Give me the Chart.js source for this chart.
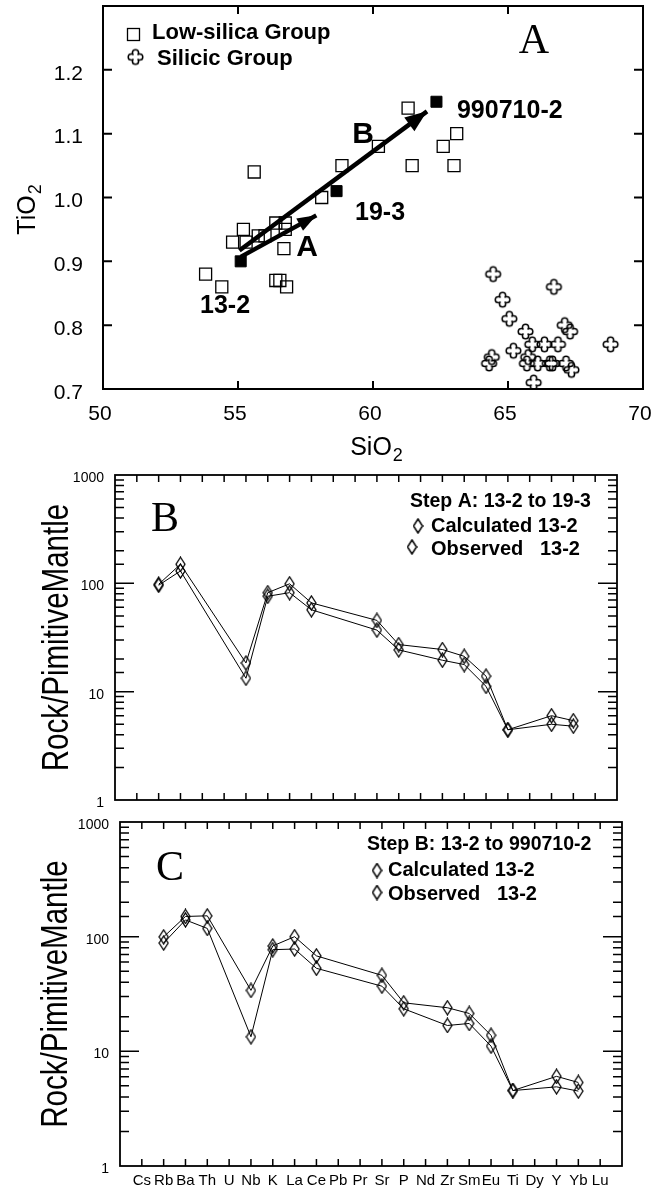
<!DOCTYPE html>
<html><head><meta charset="utf-8">
<script src="https://cdn.jsdelivr.net/npm/chart.js@4.4.1/dist/chart.umd.min.js"></script>
<style>
html,body{margin:0;padding:0;background:#fff;}
#wrap{position:relative;width:663px;height:1189px;overflow:hidden;background:#fff;}
canvas{position:absolute;left:0;}
</style></head><body>
<div id="wrap">
<canvas id="cA" width="663" height="466" style="top:0px"></canvas>
<canvas id="cB" width="663" height="344" style="top:466px"></canvas>
<canvas id="cC" width="663" height="379" style="top:810px"></canvas>
</div>
<script>
// ---------------- DATA ----------------
// Panel A: TiO2 vs SiO2
const lowSilicaSiO2 = [53.8, 54.4, 54.8, 55.2, 55.3, 55.6, 55.75, 56.0, 56.4, 56.75, 56.75, 56.7, 56.4, 56.55, 56.8, 58.1, 58.85, 60.2, 61.3, 61.45, 62.6, 63.1, 63.0];
const lowSilicaTiO2 = [0.88, 0.86, 0.93, 0.95, 0.93, 1.04, 0.94, 0.94, 0.96, 0.96, 0.95, 0.92, 0.87, 0.87, 0.86, 1.00, 1.05, 1.08, 1.14, 1.05, 1.08, 1.10, 1.05];
const silicicSiO2 = [64.45, 64.8, 65.05, 65.65, 65.2, 65.9, 66.35, 66.85, 66.7, 67.1, 67.3, 68.8, 64.4, 64.3, 65.75, 65.7, 66.1, 66.55, 66.65, 67.15, 67.35, 65.95];
const silicicTiO2 = [0.88, 0.84, 0.81, 0.79, 0.76, 0.77, 0.77, 0.77, 0.86, 0.80, 0.79, 0.77, 0.75, 0.74, 0.75, 0.74, 0.74, 0.74, 0.74, 0.74, 0.73, 0.71];
const sampleNames = ['13-2', '19-3', '990710-2'];
const sampleSiO2 = [55.1, 58.65, 62.35];
const sampleTiO2 = [0.90, 1.01, 1.15];
const arrowASiO2 = [55.1, 57.9];
const arrowATiO2 = [0.907, 0.972];
const arrowBSiO2 = [55.05, 62.0];
const arrowBTiO2 = [0.917, 1.135];
const sio2Ticks = [50, 55, 60, 65, 70];
const tio2Ticks = [0.7, 0.8, 0.9, 1.0, 1.1, 1.2];

// Panels B and C: Rock / Primitive Mantle
const elements = ['Cs','Rb','Ba','Th','U','Nb','K','La','Ce','Pb','Pr','Sr','P','Nd','Zr','Sm','Eu','Ti','Dy','Y','Yb','Lu'];
const stepA_calculated = [null, 98, 150, null, null, 18.4, 82, 99, 66, null, null, 45.5, 27.2, null, 24.5, 21.2, 13.9, 4.45, null, 6.0, 5.4, null];
const stepA_observed   = [null, 96, 130, null, null, 13.3, 76, 82, 57, null, null, 37, 24.3, null, 19.5, 17.8, 11.2, 4.45, null, 5.0, 4.8, null];
const stepB_calculated = [null, 99.7, 150, 152, null, 34, 83, 100, 68, null, null, 46, 26.5, null, 24, 21.4, 13.8, 4.55, null, 6.05, 5.35, null];
const stepB_observed   = [null, 88, 140, 118, null, 13.4, 77, 78, 53, null, null, 37, 23.5, null, 16.8, 17.5, 11.1, 4.55, null, 4.9, 4.5, null];
const logTickLabels = [1, 10, 100, 1000];

// ---------------- HELPERS ----------------
const SANS = "'Liberation Sans', Arial, Helvetica, sans-serif";
const SERIF = "'Liberation Serif', 'Times New Roman', serif";

Chart.defaults.font.family = SANS;
Chart.defaults.color = '#000';

const zip = (xs, ys) => xs.map((x, i) => ({x, y: ys[i]}));
const pad = arr => [null, ...arr, null];
function noPad(s){ s.paddingTop = 0; s.paddingBottom = 0; s.paddingLeft = 0; s.paddingRight = 0; }
const GRID = {display: false, drawTicks: false, tickLength: 0};

function makeCross(){
  const c = document.createElement('canvas'); c.width = 19; c.height = 19;
  const g = c.getContext('2d'); g.translate(9.5, 9.5);
  const e = 7.3, a = 3.1;
  g.beginPath();
  g.moveTo(-a, -e + a);
  g.arc(0, -e + a, a, Math.PI, 2 * Math.PI);
  g.lineTo(a * 0.8, -a * 0.8);
  g.lineTo(e - a, -a);
  g.arc(e - a, 0, a, -Math.PI / 2, Math.PI / 2);
  g.lineTo(a * 0.8, a * 0.8);
  g.lineTo(a, e - a);
  g.arc(0, e - a, a, 0, Math.PI);
  g.lineTo(-a * 0.8, a * 0.8);
  g.lineTo(-(e - a), a);
  g.arc(-(e - a), 0, a, Math.PI / 2, 1.5 * Math.PI);
  g.lineTo(-a * 0.8, -a * 0.8);
  g.closePath();
  g.lineWidth = 1.5; g.strokeStyle = '#000'; g.lineJoin = 'round';
  g.stroke();
  return c;
}
function makeDiamond(lw){
  const c = document.createElement('canvas'); c.width = 11; c.height = 16;
  const g = c.getContext('2d');
  g.beginPath(); g.moveTo(5.5, 1); g.lineTo(10, 8); g.lineTo(5.5, 15); g.lineTo(1, 8); g.closePath();
  g.lineWidth = lw; g.strokeStyle = '#000'; g.stroke();
  return c;
}
const crossImg = makeCross();
const diamondImg = makeDiamond(1.3);
const legendDiamondImg = makeDiamond(1.5);

function frameTicks(o){
  return {
    id: 'frameTicks',
    afterDraw(chart){
      const {ctx, chartArea: ca} = chart;
      const xs = chart.scales.x, ys = chart.scales.y;
      ctx.save();
      ctx.strokeStyle = '#000'; ctx.lineWidth = o.tickWidth;
      ctx.beginPath();
      xs.ticks.forEach((t, i) => {
        const px = xs.getPixelForTick(i);
        if (px <= ca.left + 1 || px >= ca.right - 1) return;
        ctx.moveTo(px, ca.bottom); ctx.lineTo(px, ca.bottom - o.xLen);
        ctx.moveTo(px, ca.top); ctx.lineTo(px, ca.top + o.xLen);
      });
      ys.ticks.forEach((t, i) => {
        const py = ys.getPixelForTick(i);
        if (py <= ca.top + 1 || py >= ca.bottom - 1) return;
        let len = o.yLen;
        if (o.log) {
          const l = Math.log10(t.value);
          len = Math.abs(l - Math.round(l)) < 1e-9 ? o.yLen : o.yMinor;
        }
        ctx.moveTo(ca.left, py); ctx.lineTo(ca.left + len, py);
        ctx.moveTo(ca.right, py); ctx.lineTo(ca.right - len, py);
      });
      ctx.stroke();
      ctx.lineWidth = o.frameWidth;
      ctx.strokeRect(ca.left, ca.top, ca.right - ca.left, ca.bottom - ca.top);
      ctx.restore();
    }
  };
}

function text(ctx, s, x, y, font, align, baseline){
  ctx.font = font; ctx.textAlign = align || 'center'; ctx.textBaseline = baseline || 'middle';
  ctx.fillStyle = '#000'; ctx.fillText(s, x, y);
}

// ---------------- PANEL A ----------------
const arrowHeads = {
  id: 'arrowHeads',
  afterDatasetsDraw(chart){
    const ctx = chart.ctx;
    [[0, 19, 7], [1, 22, 8.5]].forEach(([di, L, W]) => {
      const m = chart.getDatasetMeta(di);
      const p0 = m.data[0], p1 = m.data[1];
      const ang = Math.atan2(p1.y - p0.y, p1.x - p0.x);
      const c = Math.cos(ang), s = Math.sin(ang);
      const bx = p1.x - L * c, by = p1.y - L * s;
      ctx.save(); ctx.fillStyle = '#000';
      ctx.beginPath();
      ctx.moveTo(p1.x, p1.y);
      ctx.lineTo(bx - W * s, by + W * c);
      ctx.lineTo(bx + W * s, by - W * c);
      ctx.closePath(); ctx.fill(); ctx.restore();
    });
  }
};

const textsA = {
  id: 'textsA',
  afterDraw(chart){
    const {ctx, chartArea: ca} = chart;
    const xs = chart.scales.x, ys = chart.scales.y;
    const P = (x, y) => [xs.getPixelForValue(x), ys.getPixelForValue(y)];
    ctx.save();
    // legend
    ctx.strokeStyle = '#000'; ctx.lineWidth = 1.3;
    ctx.strokeRect(ca.left + 24.5, ca.top + 22.5, 12, 12);
    text(ctx, 'Low-silica Group', ca.left + 49, ca.top + 27, 'bold 22px ' + SANS, 'left');
    ctx.drawImage(crossImg, ca.left + 32.5 - crossImg.width / 2, ca.top + 51 - crossImg.height / 2);
    text(ctx, 'Silicic Group', ca.left + 54, ca.top + 53, 'bold 22px ' + SANS, 'left');
    // panel letter
    let [x, y] = P(65.96, 1.248);
    text(ctx, 'A', x, y + 14, '42px ' + SERIF, 'center', 'alphabetic');
    // sample labels
    [x, y] = P(54.52, 0.830); text(ctx, sampleNames[0], x, y, 'bold 25px ' + SANS);
    [x, y] = P(60.26, 0.976); text(ctx, sampleNames[1], x, y, 'bold 25px ' + SANS);
    [x, y] = P(63.11, 1.136); text(ctx, sampleNames[2], x, y, 'bold 25px ' + SANS, 'left');
    // arrow labels
    [x, y] = P(57.56, 0.922); text(ctx, 'A', x, y, 'bold 30px ' + SANS);
    [x, y] = P(59.63, 1.098); text(ctx, 'B', x, y, 'bold 30px ' + SANS);
    // x title SiO2
    const cx = (ca.left + ca.right) / 2 - 2;
    ctx.font = '25px ' + SANS; const wS = ctx.measureText('SiO').width;
    text(ctx, 'SiO', cx, 455, '25px ' + SANS, 'center', 'alphabetic');
    text(ctx, '2', cx + wS / 2 + 1, 461, '18px ' + SANS, 'left', 'alphabetic');
    // y title TiO2
    ctx.translate(35, 215); ctx.rotate(-Math.PI / 2);
    ctx.font = '25px ' + SANS; const wT = ctx.measureText('TiO').width;
    text(ctx, 'TiO', 0, 0, '25px ' + SANS, 'center', 'alphabetic');
    text(ctx, '2', wT / 2 + 1, 6, '18px ' + SANS, 'left', 'alphabetic');
    ctx.restore();
  }
};

new Chart(document.getElementById('cA'), {
  type: 'scatter',
  data: { datasets: [
    {label: 'Step A', data: zip(arrowASiO2, arrowATiO2), showLine: true, borderColor: '#000', borderWidth: 4.5, pointRadius: 0, borderCapStyle: 'butt', order: 0},
    {label: 'Step B', data: zip(arrowBSiO2, arrowBTiO2), showLine: true, borderColor: '#000', borderWidth: 4.5, pointRadius: 0, borderCapStyle: 'butt', order: 0},
    {label: 'Samples', data: zip(sampleSiO2, sampleTiO2), pointStyle: 'rect', pointRadius: 7.8, backgroundColor: '#000', borderColor: '#000', borderWidth: 1, order: 1},
    {label: 'Low-silica Group', data: zip(lowSilicaSiO2, lowSilicaTiO2), pointStyle: 'rect', pointRadius: 8.5, backgroundColor: 'rgba(0,0,0,0)', borderColor: '#000', borderWidth: 1.3, order: 2},
    {label: 'Silicic Group', data: zip(silicicSiO2, silicicTiO2), pointStyle: crossImg, pointRadius: 8, order: 3}
  ]},
  options: {
    responsive: false, animation: false, devicePixelRatio: 1, events: [],
    layout: {autoPadding: false, padding: {left: 0, right: 20, top: 6, bottom: 0}},
    plugins: {legend: {display: false}, tooltip: {enabled: false}},
    scales: {
      x: {type: 'linear', min: 50, max: 70,
        afterBuildTicks: s => { s.ticks = sio2Ticks.map(v => ({value: v})); },
        afterFit: s => { s.height = 466 - 389; noPad(s); },
        grid: GRID, border: {display: false},
        ticks: {font: {family: SANS, size: 21}, color: '#000', padding: 13, labelOffset: -3, maxRotation: 0, autoSkip: false, callback: v => String(v)}},
      y: {type: 'linear', min: 0.7, max: 1.3,
        afterBuildTicks: s => { s.ticks = tio2Ticks.map(v => ({value: v})); },
        afterFit: s => { s.width = 103; noPad(s); },
        grid: GRID, border: {display: false},
        ticks: {font: {family: SANS, size: 21}, color: '#000', padding: 20, labelOffset: 4, autoSkip: false, callback: v => Number(v).toFixed(1)}}
    }
  },
  plugins: [frameTicks({tickWidth: 2, xLen: 8, yLen: 9, frameWidth: 2}), arrowHeads, textsA]
});

// ---------------- PANELS B & C ----------------
function spider(id, canvasH, area, calc, obs, legend, letter, showLabels){
  const textsS = {
    id: 'textsS',
    afterDraw(chart){
      const {ctx, chartArea: ca} = chart;
      ctx.save();
      text(ctx, letter, ca.left + 50, ca.top + legend.letterBase, '42px ' + SERIF, 'center', 'alphabetic');
      text(ctx, legend.title, legend.x, ca.top + legend.y1, 'bold 19.5px ' + SANS, 'left');
      ctx.drawImage(legendDiamondImg, legend.d2 - legendDiamondImg.width / 2, ca.top + legend.y2 - legendDiamondImg.height / 2);
      text(ctx, 'Calculated 13-2', legend.tx, ca.top + legend.y2, 'bold 20px ' + SANS, 'left');
      ctx.drawImage(legendDiamondImg, legend.d3 - legendDiamondImg.width / 2, ca.top + legend.y3 - 2 - legendDiamondImg.height / 2);
      text(ctx, 'Observed   13-2', legend.tx, ca.top + legend.y3, 'bold 20px ' + SANS, 'left');
      // y title (condensed, as in the original figure)
      ctx.translate(legend.yTitleX, (ca.top + ca.bottom) / 2);
      ctx.rotate(-Math.PI / 2);
      ctx.scale(0.82, 1);
      text(ctx, 'Rock/PimitiveMantle', 0, 0, '36px ' + SANS, 'center', 'alphabetic');
      ctx.restore();
    }
  };
  const ds = (label, arr) => ({label, data: pad(arr), spanGaps: true, borderColor: '#000', borderWidth: 1, tension: 0,
    pointStyle: diamondImg, pointRadius: 7, fill: false});
  return new Chart(document.getElementById(id), {
    type: 'line',
    data: { labels: pad(elements).map(v => v === null ? '' : v), datasets: [ds('Calculated 13-2', calc), ds('Observed 13-2', obs)] },
    options: {
      responsive: false, animation: false, devicePixelRatio: 1, events: [],
      layout: {autoPadding: false, padding: {left: 0, right: 663 - area.right, top: area.top, bottom: 0}},
      plugins: {legend: {display: false}, tooltip: {enabled: false}},
      scales: {
        x: {type: 'category', offset: false,
          afterFit: s => { s.height = canvasH - area.bottom; noPad(s); },
          grid: GRID, border: {display: false},
          ticks: {display: showLabels, font: {family: SANS, size: 15}, color: '#000', padding: 6, autoSkip: false, maxRotation: 0, minRotation: 0}},
        y: {type: 'logarithmic', min: 1, max: 1000,
          afterFit: s => { s.width = area.left; noPad(s); },
          grid: GRID, border: {display: false},
          ticks: {font: {family: SANS, size: 14}, color: '#000', padding: 11, labelOffset: 3, autoSkip: false,
            callback: v => logTickLabels.includes(v) ? String(v) : ''}}
      }
    },
    plugins: [frameTicks({tickWidth: 1.5, xLen: 7, yLen: 19, yMinor: 9, log: true, frameWidth: 1.8}), textsS]
  });
}

spider('cB', 344, {left: 115, right: 617, top: 9, bottom: 334}, stepA_calculated, stepA_observed,
  {title: 'Step A: 13-2 to 19-3', x: 410, y1: 27, d2: 418, d3: 412, tx: 431, y2: 51, y3: 74, letterBase: 56, yTitleX: 68}, 'B', false);
spider('cC', 379, {left: 120, right: 622, top: 12, bottom: 356}, stepB_calculated, stepB_observed,
  {title: 'Step B: 13-2 to 990710-2', x: 367, y1: 23, d2: 377, d3: 377, tx: 388, y2: 48.5, y3: 72.5, letterBase: 58, yTitleX: 67}, 'C', true);
</script>
</body></html>
